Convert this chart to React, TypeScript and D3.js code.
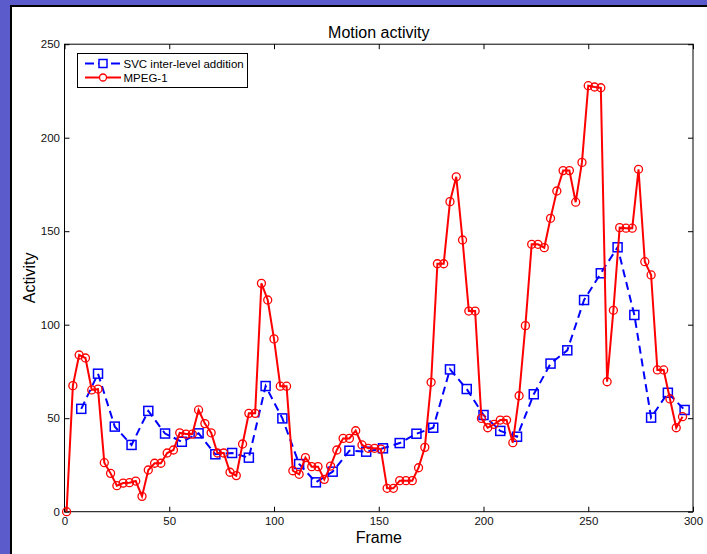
import React, { useRef, useEffect } from "react";
import * as d3 from "d3";

// MPEG-1 (red circles), one point every 3 frames
const mpegFrames = [
  1, 4, 7, 10, 13, 16, 19, 22, 25, 28, 31, 34, 37, 40, 43, 46, 49, 52, 55, 58,
  61, 64, 67, 70, 73, 76, 79, 82, 85, 88, 91, 94, 97, 100, 103, 106, 109, 112,
  115, 118, 121, 124, 127, 130, 133, 136, 139, 142, 145, 148, 151, 154, 157,
  160, 163, 166, 169, 172, 175, 178, 181, 184, 187, 190, 193, 196, 199, 202,
  205, 208, 211, 214, 217, 220, 223, 226, 229, 232, 235, 238, 241, 244, 247,
  250, 253, 256, 259, 262, 265, 268, 271, 274, 277, 280, 283, 286, 289, 292, 295,
];
const mpegValues = [
  0, 67.4, 83.8, 82.2, 65.1, 65.6, 26.2, 20.5, 13.9, 15.3,
  15.5, 16.4, 8.2, 22.3, 25.9, 25.9, 31.4, 33, 42.2, 41.5,
  41.5, 54.4, 47.1, 42.2, 31.4, 31.4, 21.1, 19.3, 36.2, 52.6,
  52.6, 122.1, 113.2, 92.4, 67.1, 67.1, 21.9, 20, 28.9, 24.1,
  24.1, 17.3, 24.4, 33, 39.2, 39.2, 43.3, 35.7, 33.9, 33.9,
  33.5, 12.5, 12.5, 16.6, 16.6, 16.6, 23.5, 34.4, 69.2, 132.6,
  132.6, 165.8, 179.1, 145.3, 107.3, 107.3, 49.9, 44.9, 46.7, 49,
  49, 36.9, 62, 99.5, 143, 143, 141.2, 156.9, 171.5, 182.4,
  182.4, 165.5, 186.8, 227.8, 227.1, 226.7, 69.5, 107.7, 151.9, 151.6,
  151.6, 183.1, 133.7, 126.6, 75.8, 75.8, 60.3, 44.9, 50.8,
];

// SVC inter-level addition (blue squares), every 8 frames
const svcFrames = [
  8, 16, 24, 32, 40, 48, 56, 64, 72, 80, 88, 96, 104, 112, 120, 128, 136, 144,
  152, 160, 168, 176, 184, 192, 200, 208, 216, 224, 232, 240, 248, 256, 264,
  272, 280, 288, 296,
];
const svcValues = [
  55, 73.8, 45.5, 35.7, 53.9, 41.8, 37.4, 41.9, 30.7, 31.4,
  28.9, 67.2, 49.9, 25.5, 15.7, 21.4, 32.6, 32.1, 33.9, 36.7,
  41.7, 44.9, 76.1, 65.6, 51.7, 43.2, 40.1, 62.8, 79.2, 86.3,
  113.2, 127.5, 141.4, 105.2, 50.3, 63.6, 54.4,
];

const xTicks = [0, 50, 100, 150, 200, 250, 300];
const yTicks = [0, 50, 100, 150, 200, 250];
const seriesNames = ["SVC inter-level addition", "MPEG-1"];

const W = 707;
const H = 554;
const FONT = "'Liberation Sans', Arial, sans-serif";

const App = () => {
  const svgRef = useRef<SVGSVGElement | null>(null);

  useEffect(() => {
    const svg = d3.select(svgRef.current);
    svg.selectAll("*").remove();

    const left = 64.5;
    const right = 693;
    const top = 44.2;
    const bottom = 511.7;

    // slide background + window frame
    svg.append("rect").attr("width", W).attr("height", H).attr("fill", "#5b5bcb");
    svg.append("rect").attr("x", 10).attr("y", 5).attr("width", W).attr("height", H).attr("fill", "#000");
    svg.append("rect").attr("x", 12).attr("y", 7).attr("width", W).attr("height", H).attr("fill", "#fff");

    const x = d3.scaleLinear().domain([0, 300]).range([left, right]);
    const y = d3.scaleLinear().domain([0, 250]).range([bottom, top]);

    const styleAxis = (g: any) => {
      g.select(".domain").remove();
      g.selectAll("line").attr("stroke", "#000");
      g.selectAll("text")
        .attr("fill", "#111")
        .style("font-family", FONT)
        .style("font-size", "11.5px");
    };

    svg
      .append("g")
      .attr("transform", `translate(0,${bottom})`)
      .call(d3.axisBottom(x).tickValues(xTicks).tickSizeInner(-5).tickSizeOuter(0).tickPadding(5))
      .call(styleAxis);
    svg
      .append("g")
      .attr("transform", `translate(0,${top})`)
      .call(d3.axisTop(x).tickValues(xTicks).tickSizeInner(-5).tickSizeOuter(0).tickFormat(() => ""))
      .call(styleAxis);
    svg
      .append("g")
      .attr("transform", `translate(${left},0)`)
      .call(d3.axisLeft(y).tickValues(yTicks).tickSizeInner(-5).tickSizeOuter(0).tickPadding(4.5))
      .call(styleAxis);
    svg
      .append("g")
      .attr("transform", `translate(${right},0)`)
      .call(d3.axisRight(y).tickValues(yTicks).tickSizeInner(-5).tickSizeOuter(0).tickFormat(() => ""))
      .call(styleAxis);

    // axes box
    svg
      .append("rect")
      .attr("x", left)
      .attr("y", top)
      .attr("width", right - left)
      .attr("height", bottom - top)
      .attr("fill", "none")
      .attr("stroke", "#000")
      .attr("stroke-width", 1);

    const svcPts = svcFrames.map((f, i) => [x(f), y(svcValues[i])] as [number, number]);
    const mpegPts = mpegFrames.map((f, i) => [x(f), y(mpegValues[i])] as [number, number]);

    // SVC dashed blue
    svg
      .append("path")
      .attr("d", d3.line()(svcPts))
      .attr("fill", "none")
      .attr("stroke", "#0000ff")
      .attr("stroke-width", 2)
      .attr("stroke-dasharray", "8,5");
    svg
      .selectAll(".sq")
      .data(svcPts)
      .join("rect")
      .attr("x", (d) => d[0] - 4.5)
      .attr("y", (d) => d[1] - 4.5)
      .attr("width", 9)
      .attr("height", 9)
      .attr("fill", "none")
      .attr("stroke", "#0000ff")
      .attr("stroke-width", 1.5);

    // MPEG-1 solid red
    svg
      .append("path")
      .attr("d", d3.line()(mpegPts))
      .attr("fill", "none")
      .attr("stroke", "#ff0000")
      .attr("stroke-width", 2);
    svg
      .selectAll(".ci")
      .data(mpegPts)
      .join("circle")
      .attr("cx", (d) => d[0])
      .attr("cy", (d) => d[1])
      .attr("r", 4)
      .attr("fill", "none")
      .attr("stroke", "#ff0000")
      .attr("stroke-width", 1.3);

    // legend
    const lg = svg.append("g");
    lg.append("rect")
      .attr("x", 77.5)
      .attr("y", 53.5)
      .attr("width", 170)
      .attr("height", 34)
      .attr("fill", "#fff")
      .attr("stroke", "#000")
      .attr("stroke-width", 1);
    const rows = [63.5, 77.5];
    lg.append("line")
      .attr("x1", 85).attr("x2", 121).attr("y1", rows[0]).attr("y2", rows[0])
      .attr("stroke", "#0000ff").attr("stroke-width", 2).attr("stroke-dasharray", "9,4");
    lg.append("rect")
      .attr("x", 99).attr("y", rows[0] - 4).attr("width", 8).attr("height", 8)
      .attr("fill", "#fff").attr("stroke", "#0000ff").attr("stroke-width", 1.5);
    lg.append("line")
      .attr("x1", 85).attr("x2", 121).attr("y1", rows[1]).attr("y2", rows[1])
      .attr("stroke", "#ff0000").attr("stroke-width", 2);
    lg.append("circle")
      .attr("cx", 103).attr("cy", rows[1]).attr("r", 3.5)
      .attr("fill", "#fff").attr("stroke", "#ff0000").attr("stroke-width", 1.3);
    lg.selectAll(".lt")
      .data(seriesNames)
      .join("text")
      .attr("x", 123.5)
      .attr("y", (d, i) => rows[i] + 4)
      .style("font-family", FONT)
      .style("font-size", "11.5px")
      .attr("fill", "#000")
      .text((d) => d);

    // title and axis labels
    svg
      .append("text")
      .attr("x", (left + right) / 2)
      .attr("y", 38)
      .attr("text-anchor", "middle")
      .style("font-family", FONT)
      .style("font-size", "16px")
      .text("Motion activity");
    svg
      .append("text")
      .attr("x", (left + right) / 2)
      .attr("y", 543)
      .attr("text-anchor", "middle")
      .style("font-family", FONT)
      .style("font-size", "16px")
      .text("Frame");
    svg
      .append("text")
      .attr("transform", `translate(35,${(top + bottom) / 2}) rotate(-90)`)
      .attr("text-anchor", "middle")
      .style("font-family", FONT)
      .style("font-size", "16px")
      .text("Activity");
  }, []);

  return (
    <svg
      ref={svgRef}
      width={W}
      height={H}
      style={{ position: "absolute", left: 0, top: 0, display: "block" }}
    ></svg>
  );
};

export default App;
